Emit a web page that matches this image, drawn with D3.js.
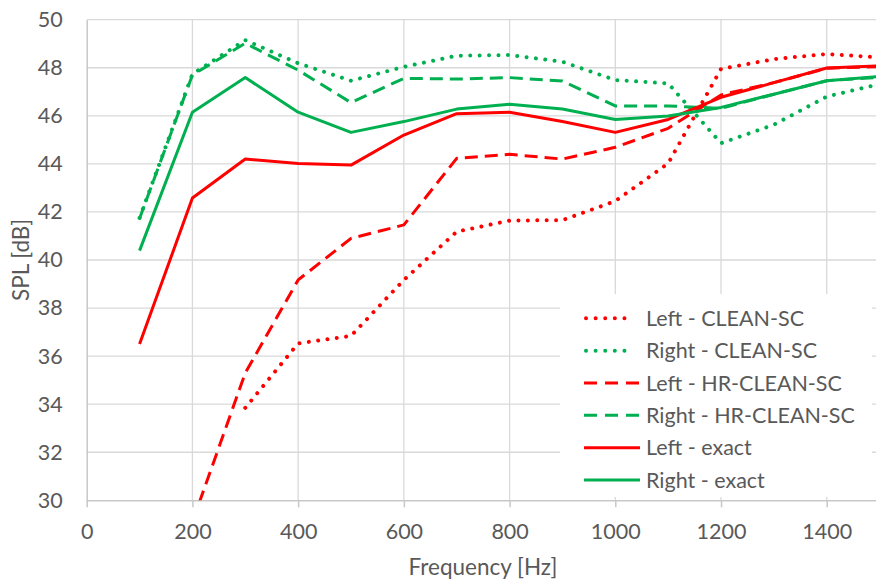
<!DOCTYPE html>
<html>
<head>
<meta charset="utf-8">
<script src="https://cdn.jsdelivr.net/npm/d3@7"></script>
<style>
  html, body { margin: 0; padding: 0; background: #fff; }
  svg { display: block; }
  text { font-family: Lato, "Open Sans", "Liberation Sans", sans-serif; fill: #595959; }
</style>
</head>
<body>
<svg id="chart" width="876" height="586"></svg>
<script>
// ---- data ----
const freqs = [100, 200, 300, 400, 500, 600, 700, 800, 900, 1000, 1100, 1200, 1300, 1400, 1500];
const leftClean  = [null, null, 33.85, 36.53, 36.84, 39.17, 41.18, 41.64, 41.66, 42.45, 44.02, 47.95, 48.36, 48.57, 48.43];
const rightClean = [41.75, 47.74, 49.15, 48.19, 47.46, 48.04, 48.50, 48.53, 48.25, 47.49, 47.35, 44.86, 45.63, 46.80, 47.32];
const leftHR     = [null, 29.1, 35.3, 39.17, 40.90, 41.46, 44.23, 44.40, 44.20, 44.69, 45.48, 46.87, 47.38, 47.98, 48.05];
const rightHR    = [41.73, 47.70, 49.02, 47.90, 46.55, 47.56, 47.53, 47.59, 47.45, 46.41, 46.41, 46.31, 46.90, 47.46, 47.60];
const leftExact  = [36.50, 42.58, 44.20, 44.02, 43.95, 45.20, 46.09, 46.15, 45.76, 45.31, 45.85, 46.77, 47.38, 47.99, 48.08];
const rightExact = [40.39, 46.15, 47.59, 46.15, 45.31, 45.76, 46.28, 46.48, 46.28, 45.85, 45.99, 46.35, 46.90, 47.46, 47.64];

const xTicks = [0, 200, 400, 600, 800, 1000, 1200, 1400];
const yTicks = [30, 32, 34, 36, 38, 40, 42, 44, 46, 48, 50];
const seriesNames = ["Left - CLEAN-SC", "Right - CLEAN-SC", "Left - HR-CLEAN-SC", "Right - HR-CLEAN-SC", "Left - exact", "Right - exact"];
const seriesValues = [leftClean, rightClean, leftHR, rightHR, leftExact, rightExact];
const seriesColors = ["#FF0000", "#00B050", "#FF0000", "#00B050", "#FF0000", "#00B050"];
const seriesStyles = ["dot", "dot", "dash", "dash", "solid", "solid"];
const xTitle = "Frequency [Hz]";
const yTitle = "SPL [dB]";

// ---- layout ----
const svg = d3.select("#chart");
const pLeft = 86.7, pRight = 879.6, pTop = 19.7, pBottom = 500.3;
const x = d3.scaleLinear().domain([0, 1500]).range([pLeft, pRight]);
const y = d3.scaleLinear().domain([30, 50]).range([pBottom, pTop]);

svg.append("defs").append("clipPath").attr("id", "plotclip")
  .append("rect").attr("x", pLeft).attr("y", pTop).attr("width", pRight - pLeft).attr("height", pBottom - pTop);

// gridlines
const grid = svg.append("g");
grid.selectAll("line.h").data(yTicks.filter(d => d !== 30)).join("line")
  .attr("x1", pLeft).attr("x2", 876).attr("y1", d => y(d)).attr("y2", d => y(d))
  .attr("stroke", "#d9d9d9").attr("stroke-width", 1.3);
grid.selectAll("line.v").data(xTicks.filter(d => d !== 0)).join("line")
  .attr("x1", d => x(d)).attr("x2", d => x(d)).attr("y1", pTop).attr("y2", pBottom)
  .attr("stroke", "#d9d9d9").attr("stroke-width", 1.3);

// axes
const xAxis = d3.axisBottom(x).tickValues(xTicks).tickSize(7).tickPadding(16).tickFormat(d3.format("d"));
const gx = svg.append("g").attr("transform", `translate(0,${pBottom})`).call(xAxis);
gx.select(".domain").attr("d", `M${pLeft},0.5H876`).attr("stroke", "#c8c8c8").attr("stroke-width", 1.5);
gx.selectAll(".tick line").attr("stroke", "#c8c8c8").attr("stroke-width", 1.5);
gx.selectAll(".tick text").attr("font-size", 21.5).attr("fill", "#595959").style("font-family", "Lato, sans-serif");

const yAxis = d3.axisLeft(y).tickValues(yTicks).tickSize(0).tickPadding(24).tickFormat(d3.format("d"));
const gy = svg.append("g").attr("transform", `translate(${pLeft},0)`).call(yAxis);
gy.select(".domain").attr("stroke", "#c8c8c8").attr("stroke-width", 1.5);
gy.selectAll(".tick text").attr("font-size", 21.5).attr("fill", "#595959").style("font-family", "Lato, sans-serif");

// series
const line = d3.line().defined(d => d.v !== null).x(d => x(d.f)).y(d => y(d.v));
const dashFor = s => s === "dot" ? "0.01 9.4" : (s === "dash" ? "13 7" : null);
const capFor = s => s === "dot" ? "round" : "butt";
const widthFor = s => s === "dot" ? 4 : 3;
const plot = svg.append("g").attr("clip-path", "url(#plotclip)");
seriesValues.forEach((vals, i) => {
  const pts = freqs.map((f, j) => ({ f, v: vals[j] }));
  plot.append("path").datum(pts)
    .attr("d", line)
    .attr("fill", "none")
    .attr("stroke", seriesColors[i])
    .attr("stroke-width", widthFor(seriesStyles[i]))
    .attr("stroke-linejoin", "round")
    .attr("stroke-linecap", capFor(seriesStyles[i]))
    .attr("stroke-dasharray", dashFor(seriesStyles[i]));
});

// legend
const lg = svg.append("g");
lg.append("rect").attr("x", 560).attr("y", 294).attr("width", 312).attr("height", 203).attr("fill", "#fff");
const rowY0 = 318.3, rowStep = 32.35;
seriesNames.forEach((name, i) => {
  const yy = rowY0 + i * rowStep;
  const st = seriesStyles[i];
  lg.append("line")
    .attr("x1", st === "dot" ? 586 : 584).attr("x2", st === "dot" ? 634 : 640)
    .attr("y1", yy).attr("y2", yy)
    .attr("stroke", seriesColors[i])
    .attr("stroke-width", widthFor(st))
    .attr("stroke-linecap", capFor(st))
    .attr("stroke-dasharray", st === "dot" ? "0.01 9.6" : (st === "dash" ? "13 8" : null));
  lg.append("text").attr("x", 646).attr("y", yy).attr("dy", "0.35em")
    .attr("font-size", 21.5).text(name);
});

// axis titles
svg.append("text").attr("x", 483).attr("y", 567).attr("dy", "0.35em")
  .attr("text-anchor", "middle").attr("font-size", 22.5).text(xTitle);
svg.append("text").attr("transform", `translate(21,260) rotate(-90)`).attr("dy", "0.35em")
  .attr("text-anchor", "middle").attr("font-size", 22.5).text(yTitle);
</script>
</body>
</html>
